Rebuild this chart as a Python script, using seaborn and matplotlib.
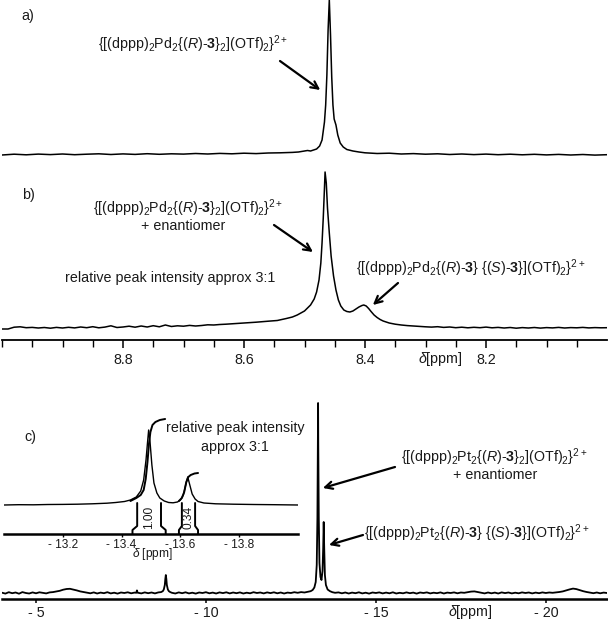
import numpy as np
import pandas as pd
import matplotlib
matplotlib.use("Agg")
import matplotlib.pyplot as plt
import seaborn as sns

# ---------------- data ----------------
# panel a: ppm / intensity (px above baseline)
A_PPM = [9.00, 8.98, 8.96, 8.94, 8.92, 8.90, 8.88, 8.86, 8.84, 8.82, 8.80, 8.78, 8.76,
         8.74, 8.72, 8.70, 8.68, 8.66, 8.64, 8.62, 8.60, 8.58, 8.56, 8.54, 8.52, 8.51,
         8.495, 8.49, 8.48, 8.475, 8.471, 8.469, 8.467, 8.465, 8.463, 8.461, 8.459,
         8.457, 8.455, 8.453, 8.451, 8.448, 8.445, 8.441, 8.436, 8.43, 8.42, 8.41, 8.40,
         8.38, 8.36, 8.34, 8.32, 8.30, 8.28, 8.26, 8.24, 8.22, 8.20, 8.18, 8.16, 8.14,
         8.12, 8.10, 8.08, 8.06, 8.04, 8.02, 8.00]
A_INT = [0.0, 0.8, 0.2, 0.9, 0.4, 1.0, 0.3, 0.8, 1.2, 0.5, 1.1, 0.6, 1.3,
         0.7, 1.2, 0.9, 1.5, 1.0, 1.6, 1.2, 1.8, 1.4, 2.0, 2.2, 2.6, 3.0,
         4.5, 4.0, 6.0, 9.0, 15, 24, 33, 50, 80, 125, 155,
         120, 78, 50, 36, 30, 20, 12, 8, 5.5, 4.0, 3.0, 2.2,
         1.5, 1.8, 1.0, 1.4, 0.8, 1.2, 0.5, 1.0, 0.4, 0.9, 0.3, 0.8, 0.2,
         0.7, 0.1, 0.6, 0.0, 0.5, -0.1, 0.3]

# panel b
B_PPM = [9.00, 8.99, 8.98, 8.97, 8.96, 8.95, 8.94, 8.93, 8.92, 8.91, 8.90, 8.89, 8.88,
         8.87, 8.86, 8.85, 8.84, 8.83, 8.82, 8.81, 8.80, 8.79, 8.78, 8.77, 8.76, 8.75,
         8.74, 8.73, 8.72, 8.71, 8.70, 8.69, 8.68, 8.67, 8.66, 8.65, 8.64, 8.63, 8.62,
         8.61, 8.60, 8.58, 8.56, 8.545, 8.53, 8.52, 8.512, 8.50, 8.49, 8.484, 8.480,
         8.476, 8.473, 8.471, 8.469, 8.467, 8.466, 8.464, 8.462, 8.459, 8.456, 8.452,
         8.448, 8.444, 8.44, 8.435, 8.43, 8.425, 8.42, 8.415, 8.41, 8.405, 8.402, 8.398,
         8.394, 8.39, 8.385, 8.38, 8.375, 8.37, 8.36, 8.35, 8.34, 8.33, 8.32, 8.31,
         8.30, 8.29, 8.28, 8.27, 8.26, 8.25, 8.24, 8.23, 8.22, 8.21, 8.20, 8.19, 8.18,
         8.17, 8.16, 8.15, 8.14, 8.13, 8.12, 8.11, 8.10, 8.09, 8.08, 8.07, 8.06, 8.05,
         8.04, 8.03, 8.02, 8.01, 8.00]
B_INT = [-1.0, -1.0, 0.8, 1.2, 0.3, 0.6, 0.0, 0.5, -0.2, 0.6, 0.0, 0.7, 0.1,
         1.0, 0.3, 1.3, 0.2, 0.9, 2.2, 0.5, 1.0, 1.8, 0.8, 2.0, 1.0, 2.3,
         1.2, 3.0, 1.5, 2.2, 1.8, 2.6, 2.0, 2.5, 3.2, 3.0, 3.5, 3.8, 4.2,
         4.6, 5.0, 5.8, 6.8, 7.5, 9.5, 11, 13, 17, 23, 29, 36,
         48, 65, 85, 110, 140, 156, 145, 120, 95, 72, 52,
         38, 28, 22, 18, 16.5, 16, 17, 19, 21, 22.5, 23, 22,
         19.5, 16.5, 13, 10.5, 8.5, 7.0, 5.0, 3.8, 3.0, 2.4, 2.0, 1.6,
         1.2, 0.9, 1.3, 0.6, 1.0, 0.3, 0.8, 0.2, 0.7, 0.3, 0.9, 0.2, 0.6,
         0.0, 0.5, -0.2, 0.4, 0.0, 0.5, -0.1, 0.4, 0.1, 0.6, 0.0, 0.4, 0.2,
         0.6, 0.1, 0.4, 0.2, 0.3]
B_MAJOR = [8.8, 8.6, 8.4, 8.2]
B_LABELS = ["8.8", "8.6", "8.4", "8.2"]
B_MINOR = [9.0, 8.95, 8.9, 8.85, 8.75, 8.7, 8.65, 8.55, 8.5, 8.45, 8.35, 8.3, 8.25,
           8.15, 8.1, 8.05]

# panel c
C_PPM = [-4.0, -4.1, -4.2, -4.3, -4.4, -4.5, -4.6, -4.7, -4.8, -4.9, -5.0, -5.1, -5.2, -5.3,
         -5.4, -5.5, -5.6, -5.7, -5.8, -5.9, -6.0, -6.1, -6.2, -6.3, -6.4, -6.5,
         -6.6, -6.7, -6.8, -6.9, -7.0, -7.1, -7.2, -7.3, -7.4, -7.5, -7.6, -7.7, -7.8, -7.9,
         -7.95, -7.97, -7.99,
         -8.1, -8.2, -8.3, -8.4, -8.5, -8.6, -8.68, -8.73, -8.76, -8.79, -8.805, -8.82,
         -8.835, -8.85, -8.88, -8.91, -8.95, -9.0,
         -9.1, -9.2, -9.3, -9.4, -9.5, -9.6, -9.7, -9.8, -9.9, -10.0, -10.1, -10.2, -10.3,
         -10.4, -10.5, -10.6, -10.7, -10.8, -10.9, -11.0, -11.1, -11.2, -11.3, -11.4, -11.5,
         -11.6, -11.7, -11.8, -11.9, -12.0, -12.1, -12.2, -12.3, -12.4, -12.5, -12.6, -12.7,
         -12.8, -12.9, -13.0,
         -13.08, -13.14, -13.19, -13.23, -13.26, -13.28, -13.295, -13.30, -13.305, -13.32,
         -13.34, -13.37, -13.40, -13.43, -13.45, -13.465, -13.48, -13.50, -13.53, -13.58,
         -13.65, -13.72, -13.8,
         -13.9, -14.0, -14.1, -14.2, -14.3, -14.4, -14.5, -14.6, -14.7, -14.8, -14.9, -15.0,
         -15.1, -15.2, -15.3, -15.4, -15.5, -15.6, -15.7, -15.8, -15.9, -16.0, -16.1, -16.2,
         -16.3, -16.4, -16.5, -16.6, -16.7, -16.8, -16.9, -17.0, -17.1, -17.2, -17.3, -17.4,
         -17.5, -17.6, -17.7, -17.8, -17.9, -18.0, -18.1, -18.2, -18.3, -18.4, -18.5, -18.6,
         -18.7, -18.8, -18.9, -19.0, -19.1, -19.2, -19.3, -19.4, -19.5, -19.6, -19.7, -19.8,
         -19.9, -20.0, -20.1, -20.2,
         -20.3, -20.4, -20.5, -20.6, -20.7, -20.8, -20.9, -21.0, -21.1, -21.2, -21.3, -21.4,
         -21.5, -21.6, -21.7, -21.8]
C_INT = [0.3, -0.6, 0.8, -0.2, 0.5, -0.7, 0.9, 0.0, -0.5, 0.6, -0.3, 0.7, 0.1, -0.4,
         0.6, 0.9, 1.6, 2.2, 3.3, 4.0, 4.2, 3.4, 2.6, 1.6, 1.0, 0.4,
         -0.3, 0.6, -0.5, 0.4, -0.2, 0.8, -0.4, 0.3, -0.6, 0.5, 0.0, 0.7, -0.3, 0.4,
         0.2, 2.6, 0.3,
         -0.4, 0.6, -0.2, 0.5, -0.4, 0.6, 0.9, 1.8, 3.5, 8.0, 14, 18,
         14, 8.0, 3.5, 1.8, 0.9, 0.2,
         -0.5, 0.6, -0.2, 0.7, -0.4, 0.3, -0.6, 0.5, 0.0, 0.8, -0.3, 0.4, -0.5,
         0.6, -0.1, 0.7, -0.4, 0.5, -0.2, 0.6, -0.5, 0.3, -0.3, 0.8, 0.0,
         0.5, -0.4, 0.6, -0.1, 0.7, -0.3, 0.5, -0.5, 0.4, 0.0, 0.8, 0.2,
         0.9, 0.5, 1.2,
         1.8, 3.0, 5.5, 11, 28, 75, 150, 190, 150, 75,
         30, 16, 13, 22, 45, 71, 45, 18, 8.0, 3.5,
         1.8, 0.8, 0.2,
         0.6, -0.3, 0.5, -0.5, 0.4, -0.2, 0.7, -0.4, 0.3, -0.6, 0.5, 0.0,
         0.6, -0.4, 0.4, -0.3, 0.7, -0.5, 0.2, -0.3, 0.6, -0.2, 0.4, -0.6,
         0.5, 0.0, 0.6, -0.4, 0.3, -0.2, 0.6, -0.5, 0.4, 0.0, 0.6, -0.3,
         0.5, 0.2, 0.8, 1.4, 1.6, 0.9, 0.2, -0.4, 0.5, -0.3, 0.4, -0.5,
         0.6, -0.1, 0.5, -0.4, 0.3, -0.3, 0.6, 0.0, 0.5, -0.4, 0.4, -0.2,
         0.6, 0.0, 0.5, 0.2,
         0.6, 1.0, 1.6, 2.6, 3.6, 4.4, 3.9, 2.8, 1.8, 1.0, 0.4, -0.2,
         0.5, -0.3, 0.4, 0.0]
C_MAJOR = [-5, -10, -15, -20]
C_LABELS = ["- 5", "- 10", "- 15", "- 20"]

# inset of panel c
I_PPM = [-13.00, -13.05, -13.10, -13.15, -13.20, -13.25, -13.30, -13.35, -13.38, -13.41,
         -13.43, -13.45, -13.465, -13.475, -13.483, -13.488, -13.492, -13.497, -13.503,
         -13.51, -13.52, -13.53, -13.545, -13.56, -13.575, -13.59, -13.60, -13.61, -13.618,
         -13.625, -13.632, -13.64, -13.65, -13.66, -13.68, -13.72, -13.78, -13.85, -13.92,
         -14.00]
I_INT = [0.0, 0.3, 0.2, 0.5, 0.6, 0.8, 1.2, 1.8, 2.5, 3.5,
         5.0, 8.0, 14, 25, 45, 62, 75, 62, 40,
         22, 12, 7.0, 4.0, 2.5, 2.2, 3.0, 5.0, 10, 20,
         28, 20, 11, 6.0, 3.5, 2.0, 1.2, 0.8, 0.5, 0.3,
         0.0]
INT1_PPM = [-13.43, -13.45, -13.465, -13.475, -13.482, -13.488, -13.493, -13.498, -13.505,
            -13.515, -13.53, -13.548]
INT1_VAL = [4, 7, 10, 15, 26, 43, 61, 73, 80, 83, 85, 86]
INT2_PPM = [-13.595, -13.605, -13.613, -13.62, -13.627, -13.635, -13.648, -13.66]
INT2_VAL = [4, 7, 13, 23, 28, 30, 31.5, 32]
REGIONS = [(-13.437, -13.55), (-13.595, -13.66)]
REGION_VALUES = ["1.00", "0.34"]
I_MAJOR = [-13.2, -13.4, -13.6, -13.8]
I_LABELS = ["- 13.2", "- 13.4", "- 13.6", "- 13.8"]

# ---------------- style ----------------
sns.set_theme(style="white")
plt.rcParams["font.family"] = ["Liberation Sans", "DejaVu Sans"]
plt.rcParams["mathtext.fontset"] = "custom"
plt.rcParams["mathtext.rm"] = "Liberation Sans"
plt.rcParams["mathtext.it"] = "Liberation Sans:italic"
plt.rcParams["mathtext.bf"] = "Liberation Sans:bold"
plt.rcParams["mathtext.sf"] = "Liberation Sans"
plt.rcParams["axes.grid"] = False

W, H = 608, 629
TXT = "#1a1a1a"
FS = 10.3
fig = plt.figure(figsize=(W / 100, H / 100), dpi=100)


def rect(x0, y0, x1, y1):
    return [x0 / W, 1 - y1 / H, (x1 - x0) / W, (y1 - y0) / H]


def draw(ax, ppm, val, offset=0.0, lw=1.1):
    df = pd.DataFrame({"ppm": ppm, "I": np.asarray(val, dtype=float) + offset})
    sns.lineplot(data=df, x="ppm", y="I", ax=ax, color="black", lw=lw,
                 sort=False, estimator=None)
    ax.set_xlabel("")
    ax.set_ylabel("")


def clean(ax, bottom=False, lw=1.5):
    for s in ["top", "left", "right"]:
        ax.spines[s].set_visible(False)
    ax.spines["bottom"].set_visible(bottom)
    ax.spines["bottom"].set_color("black")
    ax.spines["bottom"].set_linewidth(lw)
    ax.set_yticks([])
    ax.patch.set_alpha(0)


def ftext(x, y, s, **kw):
    kw.setdefault("fontsize", FS)
    kw.setdefault("color", TXT)
    kw.setdefault("ha", "center")
    kw.setdefault("va", "center")
    fig.text(x / W, 1 - y / H, s, **kw)


def arrow(ax, tip, tail):
    ax.annotate("", xy=tip, xycoords="data", xytext=(tail[0], H - tail[1]),
                textcoords="figure pixels",
                arrowprops=dict(arrowstyle="->", color="black", lw=1.6,
                                mutation_scale=13, shrinkA=0, shrinkB=0))


PD_RR = r"{[(dppp)$_2$Pd$_2${($\mathit{R}$)-$\mathbf{3}$}$_2$](OTf)$_2$}$^{2+}$"
PD_RS = r"{[(dppp)$_2$Pd$_2${($\mathit{R}$)-$\mathbf{3}$} {($\mathit{S}$)-$\mathbf{3}$}](OTf)$_2$}$^{2+}$"
PT_RR = r"{[(dppp)$_2$Pt$_2${($\mathit{R}$)-$\mathbf{3}$}$_2$](OTf)$_2$}$^{2+}$"
PT_RS = r"{[(dppp)$_2$Pt$_2${($\mathit{R}$)-$\mathbf{3}$} {($\mathit{S}$)-$\mathbf{3}$}](OTf)$_2$}$^{2+}$"
DELTA = r"$\mathit{\delta}$[ppm]"

# ---------------- panel a ----------------
axa = fig.add_axes(rect(2, 0, 607, 165))
draw(axa, A_PPM, A_INT)
axa.set_xlim(9.0, 8.0)
axa.set_ylim(-10, 155)
clean(axa)
axa.set_xticks([])
ftext(28, 16, "a)")
ftext(193, 44, PD_RR)
arrow(axa, (8.474, 65), (280, 61))

# ---------------- panel b ----------------
axb = fig.add_axes(rect(2, 165, 607, 340))
draw(axb, B_PPM, B_INT)
axb.set_xlim(9.0, 8.0)
axb.set_ylim(-12, 163)
clean(axb, bottom=True, lw=1.3)
axb.set_xticks(B_MAJOR)
axb.set_xticklabels(B_LABELS)
axb.set_xticks(B_MINOR, minor=True)
axb.tick_params(axis="x", which="major", bottom=True, length=6, width=1.1,
                direction="out", pad=3, labelsize=FS, labelcolor=TXT, color="black")
axb.tick_params(axis="x", which="minor", bottom=True, length=5, width=1.0,
                direction="out", color="black")
ftext(440, 359, DELTA)
ftext(28, 195, "b)")
ftext(188, 208, PD_RR)
ftext(183, 226, "+ enantiomer")
ftext(170, 278, "relative peak intensity approx 3:1")
ftext(471, 268, PD_RS)
arrow(axb, (8.486, 76), (274, 225))
arrow(axb, (8.387, 23), (398, 283))

# ---------------- panel c ----------------
axc = fig.add_axes(rect(2, 395, 607, 599))
draw(axc, C_PPM, C_INT, lw=1.3)
axc.set_xlim(-4.0, -21.8)
axc.set_ylim(-6, 198)
clean(axc, bottom=True, lw=1.8)
axc.set_xticks(C_MAJOR)
axc.set_xticklabels(C_LABELS)
axc.tick_params(axis="x", which="major", bottom=True, length=3, width=1.1,
                direction="out", pad=2, labelsize=FS, labelcolor=TXT, color="black")
ftext(470, 612, DELTA)
ftext(30, 437, "c)")
ftext(235, 428, "relative peak intensity")
ftext(235, 447, "approx 3:1")
ftext(494, 457, PT_RR)
ftext(495, 475, "+ enantiomer")
ftext(477, 533, PT_RS)
arrow(axc, (-13.44, 105), (395, 467))
arrow(axc, (-13.62, 48), (363, 535))

# ---------------- inset ----------------
axi = fig.add_axes(rect(4, 415, 298, 534))
base = 29
draw(axi, I_PPM, I_INT, offset=base, lw=1.0)
draw(axi, INT1_PPM, INT1_VAL, offset=base, lw=1.4)
draw(axi, INT2_PPM, INT2_VAL, offset=base, lw=1.4)
axi.set_xlim(-13.0, -14.0)
axi.set_ylim(0, 119)
clean(axi, bottom=True, lw=1.8)
axi.set_xticks(I_MAJOR)
axi.set_xticklabels(I_LABELS)
axi.tick_params(axis="x", which="major", bottom=True, length=2, width=1.0,
                direction="out", pad=1.5, labelsize=8.6, labelcolor=TXT, color="black")
for (r0, r1), lab in zip(REGIONS, REGION_VALUES):
    jog = 0.016 if lab == "1.00" else 0.01
    axi.plot([r0, r0, r0 - jog, r0 - jog], [0, 4, 8, 31], color="black", lw=1.4)
    axi.plot([r1, r1, r1 + jog, r1 + jog], [0, 4, 8, 31], color="black", lw=1.4)
    axi.text((r0 + r1) / 2, 17, lab, rotation=90, ha="center", va="center",
             fontsize=8.6, color=TXT)
ftext(152, 554, r"$\mathit{\delta}$ [ppm]", fontsize=8.6)

fig.savefig("out.png", dpi=100)
